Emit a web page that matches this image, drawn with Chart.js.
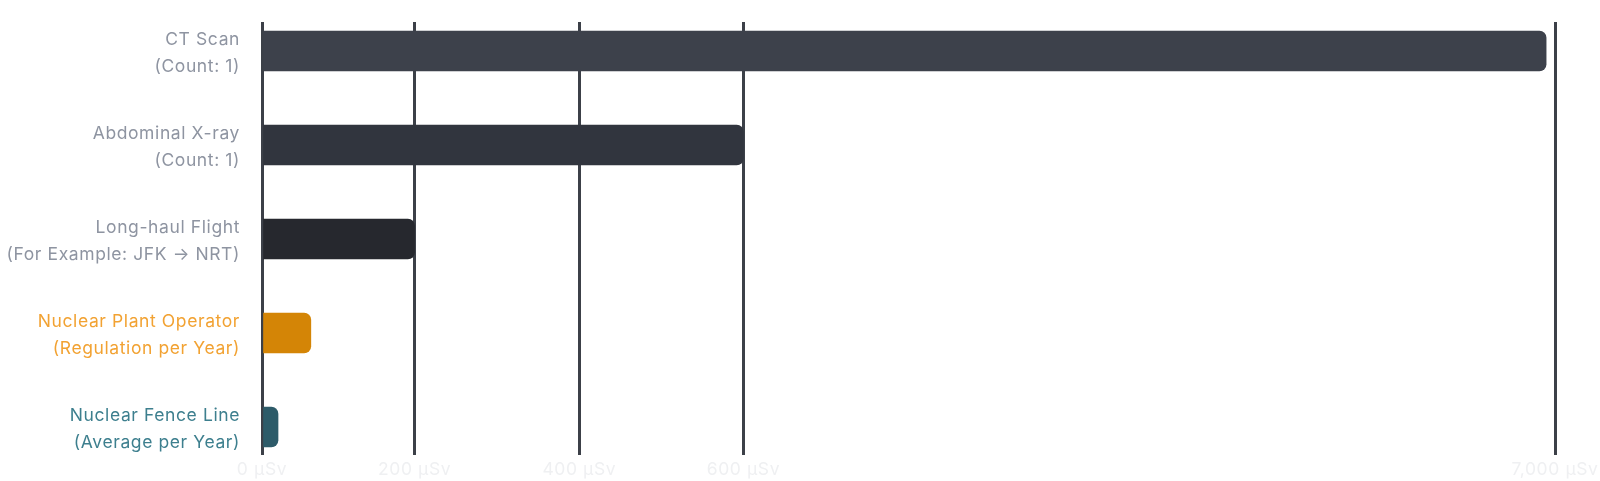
<!DOCTYPE html>
<html>
<head>
<meta charset="utf-8">
<script src="https://cdn.jsdelivr.net/npm/chart.js@4/dist/chart.umd.min.js"></script>
<style>
  html, body { margin: 0; padding: 0; background: #ffffff; }
  #wrap { width: 1600px; height: 481px; position: relative; }
</style>
</head>
<body>
<div id="wrap"><canvas id="c"></canvas></div>
<script>
// ---- data ----
const categories = [
  ["CT Scan", "(Count: 1)"],
  ["Abdominal X-ray", "(Count: 1)"],
  ["Long-haul Flight", "(For Example: JFK \u2192 NRT)"],
  ["Nuclear Plant Operator", "(Regulation per Year)"],
  ["Nuclear Fence Line", "(Average per Year)"]
];
const doseValues = [6930, 600, 200, 64, 21];
const tickValues = [0, 200, 400, 600, 7000];
const unitLabel = "\u00b5Sv";

// ---- styles ----
const barColors = ["#3d414b", "#31353e", "#26282e", "#d48506", "#2d5b69"];
const labelColors = ["#8e94a1", "#8e94a1", "#8e94a1", "#f2a232", "#3d7f8e"];
// broken axis: fraction of the plot width at each tick value
const tickFractions = [0, 0.118, 0.2454, 0.3723, 1];
const FONT = "Inter, 'Noto Sans', sans-serif";

class BrokenScale extends Chart.LinearScale {
  buildTicks() {
    return tickValues.map(v => ({ value: v }));
  }
  _frac(value) {
    if (value <= tickValues[0]) return tickFractions[0];
    for (let i = 1; i < tickValues.length; i++) {
      if (value <= tickValues[i]) {
        const t = (value - tickValues[i - 1]) / (tickValues[i] - tickValues[i - 1]);
        return tickFractions[i - 1] + t * (tickFractions[i] - tickFractions[i - 1]);
      }
    }
    return 1;
  }
  getPixelForValue(value) {
    return this.getPixelForDecimal(this._frac(value));
  }
  getValueForPixel(pixel) {
    const f = this.getDecimalForPixel(pixel);
    for (let i = 1; i < tickFractions.length; i++) {
      if (f <= tickFractions[i]) {
        const t = (f - tickFractions[i - 1]) / (tickFractions[i] - tickFractions[i - 1]);
        return tickValues[i - 1] + t * (tickValues[i] - tickValues[i - 1]);
      }
    }
    return tickValues[tickValues.length - 1];
  }
}
BrokenScale.id = 'broken';
BrokenScale.defaults = {};
Chart.register(BrokenScale);

// letter spacing to mimic the reference typeface
const spacingPlugin = {
  id: 'spacing',
  beforeLayout(chart) { chart.ctx.letterSpacing = '0.6px'; },
  beforeDraw(chart) { chart.ctx.letterSpacing = '0.6px'; }
};

const points = doseValues.map((v, i) => ({ x: v, y: i }));

new Chart(document.getElementById('c'), {
  type: 'bar',
  data: {
    datasets: [{
      data: points,
      backgroundColor: barColors,
      borderRadius: 7,
      borderSkipped: 'start',
      barThickness: 40
    }]
  },
  plugins: [spacingPlugin],
  options: {
    indexAxis: 'y',
    responsive: true,
    maintainAspectRatio: false,
    animation: false,
    layout: { padding: { top: 22, right: 45, bottom: 0, left: 0 } },
    plugins: { legend: { display: false }, tooltip: { enabled: false } },
    scales: {
      x: {
        type: 'broken',
        min: 0,
        max: 7000,
        afterFit: s => { s.height = 26; s.paddingLeft = 0; s.paddingRight = 0; },
        grid: { color: '#3c4048', lineWidth: 3, drawTicks: false },
        border: { display: false },
        ticks: {
          padding: 4,
          color: '#eff0f2',
          font: { family: FONT, size: 17.5 },
          maxRotation: 0,
          autoSkip: false,
          callback: v => v.toLocaleString('en-US') + ' ' + unitLabel
        }
      },
      y: {
        type: 'linear',
        reverse: true,
        offset: false,
        grace: 0,
        min: -0.3085,
        max: 4.298,
        afterBuildTicks: s => { s.ticks = categories.map((c, i) => ({ value: i })); },
        afterFit: s => { s.width = 262; s.paddingTop = 0; s.paddingBottom = 0; },
        grid: { display: false },
        border: { display: false },
        ticks: {
          padding: 14,
          labelOffset: 2,
          color: ctx => labelColors[ctx.index],
          font: { family: FONT, size: 17.5, lineHeight: '27px' },
          autoSkip: false,
          callback: (v, i) => categories[i]
        }
      }
    }
  }
});
</script>
</body>
</html>
